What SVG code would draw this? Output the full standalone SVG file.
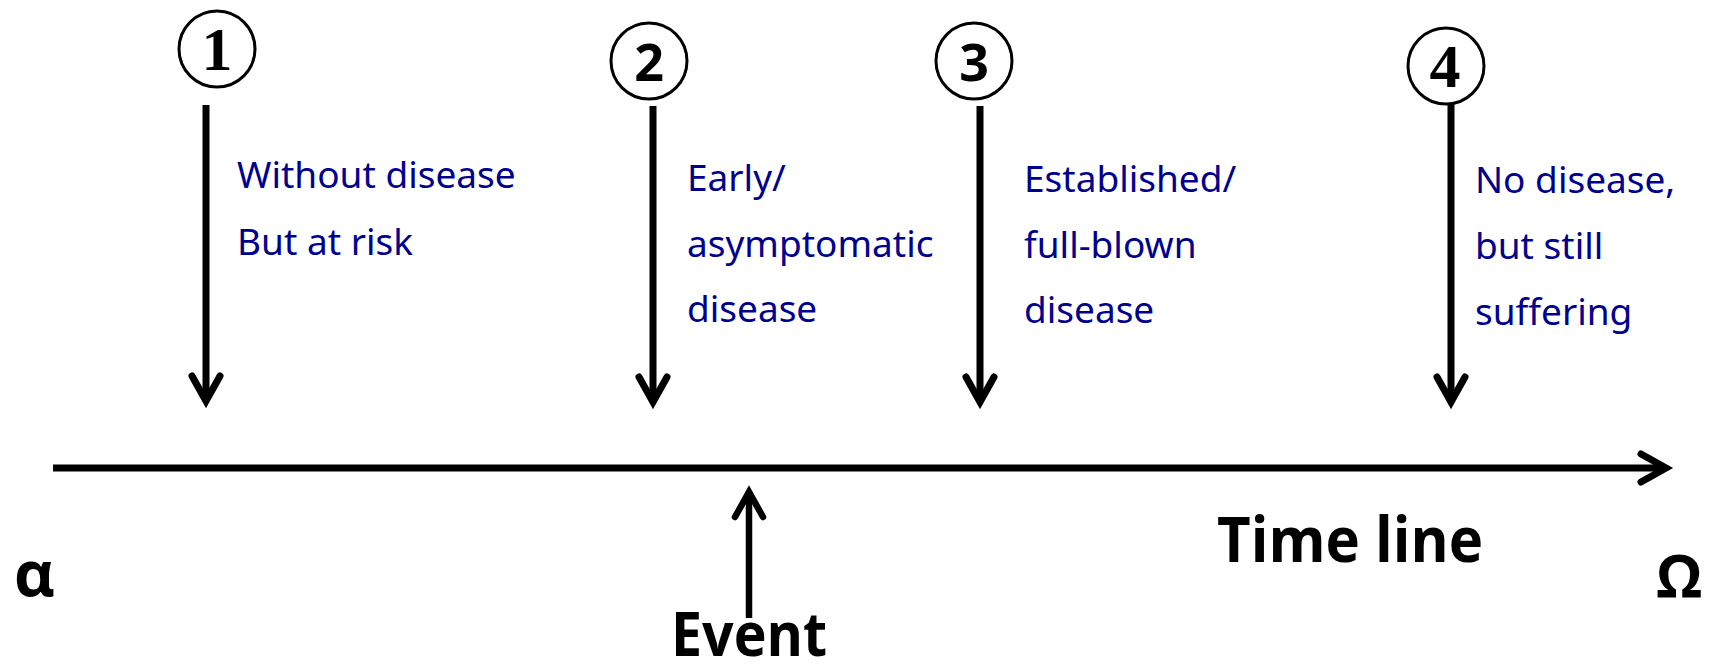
<svg xmlns="http://www.w3.org/2000/svg" width="1709" height="671" viewBox="0 0 1709 671">
<style>
.bg{fill:#ffffff}
.ln{stroke:#000;stroke-width:7;fill:none;stroke-linecap:butt}
.hd{stroke:#000;stroke-width:7;fill:none;stroke-linecap:round;stroke-linejoin:miter}
.ring{fill:#fff;stroke:#000;stroke-width:3}
.lbl{font-family:"Noto Sans","Open Sans",sans-serif;font-size:37px;fill:#00008f}
.big{font-family:"Open Sans","Liberation Sans",sans-serif;font-weight:bold;fill:#000}
.dser{font-family:"Liberation Serif",serif;font-weight:bold;font-size:62px;fill:#000;text-anchor:middle}
.dsan{font-family:"Open Sans","Liberation Sans",sans-serif;font-weight:bold;font-size:52px;fill:#000;text-anchor:middle}
</style>
<rect class="bg" x="0" y="0" width="1709" height="671"/>
<g id="connectors">
  <line class="ln" x1="53" y1="468" x2="1664" y2="468"/>
  <polyline class="hd" points="1641,454 1666,468 1641,482"/>
  <line class="ln" x1="206" y1="105" x2="206" y2="400"/>
  <polyline class="hd" points="192,376 206,401 220,376"/>
  <line class="ln" x1="653" y1="106" x2="653" y2="401"/>
  <polyline class="hd" points="639,377 653,402 667,377"/>
  <line class="ln" x1="980" y1="106" x2="980" y2="401"/>
  <polyline class="hd" points="966,377 980,402 994,377"/>
  <line class="ln" x1="1451" y1="104" x2="1451" y2="401"/>
  <polyline class="hd" points="1437,377 1451,402 1465,377"/>
  <line class="ln" x1="749" y1="494" x2="749" y2="618" style="stroke-width:6.5"/>
  <polyline class="hd" points="735,517 749,492 763,517" style="stroke-width:6.5"/>
</g>
<g id="node1">
  <circle class="ring" cx="217" cy="49" r="38"/>
  <text class="dser" x="217" y="70">1</text>
  <text class="lbl" x="237" y="188">Without disease</text>
  <text class="lbl" x="237" y="255">But at risk</text>
</g>
<g id="node2">
  <circle class="ring" cx="649" cy="61" r="38"/>
  <text class="dsan" x="649" y="81">2</text>
  <text class="lbl" x="687" y="191">Early/</text>
  <text class="lbl" x="687" y="257">asymptomatic</text>
  <text class="lbl" x="687" y="322">disease</text>
</g>
<g id="node3">
  <circle class="ring" cx="974" cy="61" r="38"/>
  <text class="dsan" x="974" y="81">3</text>
  <text class="lbl" x="1024" y="192">Established/</text>
  <text class="lbl" x="1024" y="258">full-blown</text>
  <text class="lbl" x="1024" y="323">disease</text>
</g>
<g id="node4">
  <circle class="ring" cx="1446" cy="66" r="38"/>
  <text class="dser" x="1445" y="87">4</text>
  <text class="lbl" x="1475" y="193">No disease,</text>
  <text class="lbl" x="1475" y="259">but still</text>
  <text class="lbl" x="1475" y="325">suffering</text>
</g>
<g id="event">
  <text class="big" x="671" y="656" font-size="61" textLength="156" lengthAdjust="spacingAndGlyphs">Event</text>
</g>
<g id="timeline-label">
  <text class="big" x="1217" y="562" font-size="63" textLength="266" lengthAdjust="spacingAndGlyphs">Time line</text>
</g>
<g id="alpha">
  <text class="big" x="14" y="596" font-size="63">α</text>
</g>
<g id="omega">
  <text class="big" x="1656" y="597" font-size="59">Ω</text>
</g>
</svg>
